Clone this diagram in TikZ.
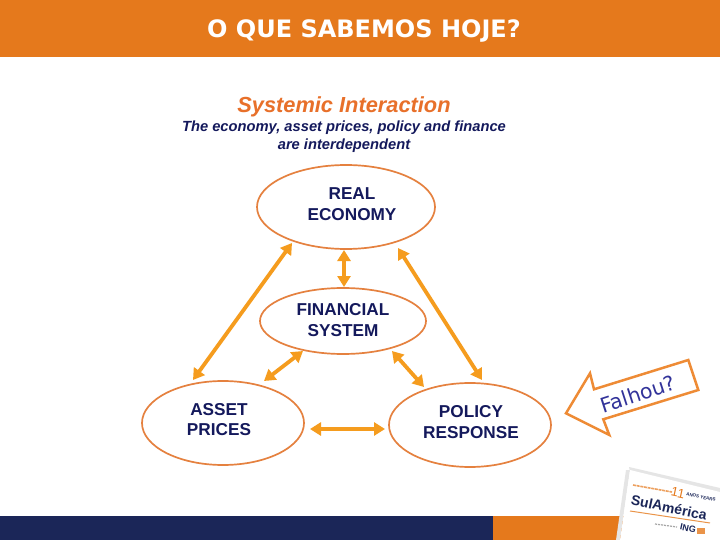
\documentclass[tikz,border=0pt]{standalone}
\usepackage{fontspec}
\setmainfont{Liberation Sans}
\newfontfamily\dejavu{DejaVu Sans}
\usetikzlibrary{arrows.meta}
\definecolor{bandorange}{HTML}{E5791C}
\definecolor{bandnavy}{HTML}{1B2658}
\definecolor{ringorange}{HTML}{E5813F}
\definecolor{arroworange}{HTML}{F59C1E}
\definecolor{inknavy}{HTML}{14195C}
\definecolor{titleorange}{HTML}{E8702A}
\definecolor{callblue}{HTML}{32339A}
\definecolor{callorange}{HTML}{EE8B35}
\tikzset{
  x=1pt,y=-1pt,
  ring/.style={draw=ringorange,line width=1.7pt,fill=white},
  label/.style={font=\bfseries\fontsize{17.2}{20.5}\selectfont,text=inknavy,align=center,inner sep=0pt},
  link/.style={draw=arroworange,line width=3.8pt,{Triangle[length=11pt,width=13pt]}-{Triangle[length=11pt,width=13pt]}},
  tiny/.style={inner sep=0pt,rotate=-12}
}
\begin{document}
\begin{tikzpicture}
\useasboundingbox (0,0) rectangle (720,540);
\fill[white] (0,0) rectangle (720,540);
% bands
\fill[bandorange] (0,0) rectangle (720,57);
\fill[bandnavy] (0,516) rectangle (493,540);
\fill[bandorange] (493,516) rectangle (720,540);
\node[inner sep=0pt,text=white,font=\bfseries\dejavu\fontsize{24}{26}\selectfont] (title) at (364,31) {O QUE SABEMOS HOJE?};
% heading
\node[inner sep=0pt,text=titleorange,font=\bfseries\itshape\fontsize{21.8}{24}\selectfont] (head) at (344,106.5) {Systemic Interaction};
\node[inner sep=0pt,text=inknavy,align=center,font=\bfseries\itshape\fontsize{14.7}{17.6}\selectfont] (sub) at (344,136.5) {The economy, asset prices, policy and finance\\are interdependent};
% ellipses
\draw[ring] (346,207) ellipse [x radius=89,y radius=42];
\draw[ring] (343,321) ellipse [x radius=83,y radius=33];
\draw[ring] (223,423) ellipse [x radius=81,y radius=42];
\draw[ring] (470,425) ellipse [x radius=81,y radius=42];
\node[label] (real) at (352,204) {REAL\\ECONOMY};
\node[label] (fin) at (343,320) {FINANCIAL\\SYSTEM};
\node[label] (asset) at (219,419.5) {ASSET\\PRICES};
\node[label] (policy) at (471,422) {POLICY\\RESPONSE};
% anchor points on the rims
\coordinate (ra) at (292,243); \coordinate (ar) at (193,380);
\coordinate (rp) at (398,248); \coordinate (pr) at (482,380);
\coordinate (rf) at (344,250); \coordinate (fr) at (344,287);
\coordinate (fa) at (303,351); \coordinate (af) at (264,381);
\coordinate (fp) at (392,351); \coordinate (pf) at (424,387);
\coordinate (ap) at (310,429); \coordinate (pa) at (385,429);
\draw[link] (ra) -- (ar);
\draw[link] (rp) -- (pr);
\draw[link] (rf) -- (fr);
\draw[link] (fa) -- (af);
\draw[link] (fp) -- (pf);
\draw[link] (ap) -- (pa);
% callout
\draw[callorange,line width=2.5pt,miter limit=4,fill=white]
 (566,413.3) -- (590,373.3) -- (594,389.3) -- (688.3,360) -- (698.3,390) -- (603.3,419.3) -- (609.3,435) -- cycle;
\node[inner sep=0pt,rotate=18,text=callblue,font=\dejavu\fontsize{20.5}{22}\selectfont] (call) at (638,394) {Falhou?};
% logo card
\fill[black!10] (629,467) -- (720,488) -- (720,494) -- (630,472) -- cycle;
\fill[black!10] (626,470) -- (630,470) -- (620,540) -- (616,540) -- cycle;
\fill[white] (630,470) -- (720,492) -- (720,540) -- (620,540) -- cycle;
\draw[bandorange!70,line width=1.6pt,dash pattern=on 3pt off 0.7pt] (633,485) -- (672,492);
\node[tiny,text=bandorange,font=\fontsize{13}{14}\selectfont] (eleven) at (678,493) {11};
\node[tiny,text=bandnavy,font=\bfseries\fontsize{4.5}{5}\selectfont] (anos) at (701,497) {ANOS YEARS};
\node[tiny,text=bandnavy,font=\bfseries\fontsize{14}{17}\selectfont] (sula) at (669,507.5) {SulAmérica};
\draw[bandorange!80,line width=1pt] (630,511) -- (710,523);
\draw[gray!70,line width=1.2pt,dash pattern=on 2pt off 1pt] (655,524) -- (677,527);
\node[tiny,text=bandnavy,font=\bfseries\fontsize{9}{10}\selectfont] (ing) at (688,528.5) {ING};
\fill[bandorange!80] (697,528) rectangle (705,534);
\end{tikzpicture}
\end{document}
